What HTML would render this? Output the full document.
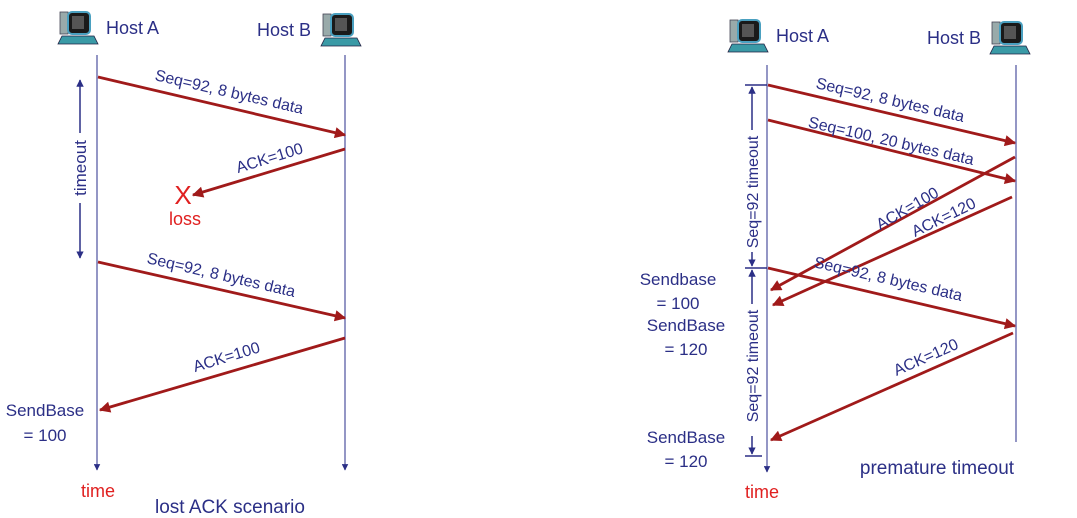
<!DOCTYPE html>
<html><head><meta charset="utf-8"><style>
body{margin:0;background:#fff;width:1077px;height:518px;overflow:hidden}
svg{display:block}
text{font-family:"Liberation Sans",sans-serif;fill:#2b2f86}
</style></head><body>
<svg width="1077" height="518" viewBox="0 0 1077 518">
<defs>
<marker id="ar" viewBox="0 0 10 10" refX="9" refY="5" markerWidth="5" markerHeight="4" orient="auto"><path d="M0,0L10,5L0,10z" fill="#a01a1a"/></marker>
<marker id="bl" viewBox="0 0 10 10" refX="9" refY="5" markerWidth="5" markerHeight="5" orient="auto"><path d="M0,0L10,5L0,10z" fill="#2b2f86"/></marker>
<g id="pc">
<rect x="0" y="0" width="8" height="22" fill="#9aa" stroke="#445" stroke-width="0.8"/>
<rect x="8" y="0" width="22" height="22" rx="4" fill="#1a1a1a" stroke="#4aa0c0" stroke-width="2"/>
<rect x="12" y="4" width="12" height="13" fill="#555"/>
<path d="M2,24 L34,24 L38,32 L-2,32 Z" fill="#3a9aa6" stroke="#224" stroke-width="0.8"/>
</g>
</defs>
<g stroke="#5b5fa6" stroke-width="1.3">
<line x1="97" y1="55" x2="97" y2="470" marker-end="url(#bl)"/>
<line x1="345" y1="55" x2="345" y2="470" marker-end="url(#bl)"/>
<line x1="767" y1="65" x2="767" y2="472" marker-end="url(#bl)"/>
<line x1="1016" y1="65" x2="1016" y2="442"/>
</g>
<use href="#pc" x="60" y="12"/>
<use href="#pc" x="323" y="14"/>
<use href="#pc" x="730" y="20"/>
<use href="#pc" x="992" y="22"/>
<g font-size="18">
<text x="106" y="34">Host A</text>
<text x="257" y="36">Host B</text>
<text x="776" y="42">Host A</text>
<text x="927" y="44">Host B</text>
</g>
<g stroke="#a01a1a" stroke-width="2.8" marker-end="url(#ar)">
<line x1="98" y1="77" x2="345" y2="135"/>
<line x1="345" y1="149" x2="193" y2="195"/>
<line x1="98" y1="262" x2="345" y2="318"/>
<line x1="345" y1="338" x2="100" y2="410"/>
<line x1="768" y1="85" x2="1015" y2="143"/>
<line x1="768" y1="120" x2="1015" y2="181"/>
<line x1="1015" y1="157" x2="771" y2="290"/>
<line x1="1012" y1="197" x2="773" y2="305"/>
<line x1="768" y1="268" x2="1015" y2="326"/>
<line x1="1013" y1="333" x2="771" y2="440"/>
</g>
<g font-size="16">
<text transform="translate(228,97) rotate(13)" text-anchor="middle">Seq=92, 8 bytes data</text>
<text transform="translate(271,163) rotate(-17)" text-anchor="middle">ACK=100</text>
<text transform="translate(220,280) rotate(13)" text-anchor="middle">Seq=92, 8 bytes data</text>
<text transform="translate(228,362) rotate(-17)" text-anchor="middle">ACK=100</text>
<text transform="translate(889,105) rotate(13)" text-anchor="middle">Seq=92, 8 bytes data</text>
<text transform="translate(890,146) rotate(13)" text-anchor="middle">Seq=100, 20 bytes data</text>
<text transform="translate(910,213) rotate(-30)" text-anchor="middle">ACK=100</text>
<text transform="translate(946,222) rotate(-26)" text-anchor="middle">ACK=120</text>
<text transform="translate(887,284) rotate(13)" text-anchor="middle">Seq=92, 8 bytes data</text>
<text transform="translate(928,362) rotate(-24)" text-anchor="middle">ACK=120</text>
</g>
<text x="183" y="204" font-size="26" text-anchor="middle" style="fill:#e02020">X</text>
<text x="185" y="225" font-size="18" text-anchor="middle" style="fill:#e02020">loss</text>
<g stroke="#2b2f86" stroke-width="1.5">
<line x1="80" y1="133" x2="80" y2="80" marker-end="url(#bl)"/>
<line x1="80" y1="203" x2="80" y2="258" marker-end="url(#bl)"/>
<line x1="752" y1="130" x2="752" y2="87" marker-end="url(#bl)"/>
<line x1="752" y1="252" x2="752" y2="266" marker-end="url(#bl)"/>
<line x1="745" y1="85" x2="767" y2="85"/>
<line x1="745" y1="268" x2="767" y2="268"/>
<line x1="752" y1="304" x2="752" y2="270" marker-end="url(#bl)"/>
<line x1="752" y1="436" x2="752" y2="454" marker-end="url(#bl)"/>
<line x1="745" y1="456" x2="762" y2="456"/>
</g>
<text transform="translate(86,168) rotate(-90)" font-size="17" text-anchor="middle">timeout</text>
<text transform="translate(758,192) rotate(-90)" font-size="16" text-anchor="middle">Seq=92 timeout</text>
<text transform="translate(758,366) rotate(-90)" font-size="16" text-anchor="middle">Seq=92 timeout</text>
<g font-size="17" text-anchor="middle">
<text x="45" y="416">SendBase</text><text x="45" y="441">= 100</text>
<text x="678" y="285">Sendbase</text><text x="678" y="309">= 100</text>
<text x="686" y="331">SendBase</text><text x="686" y="355">= 120</text>
<text x="686" y="443">SendBase</text><text x="686" y="467">= 120</text>
</g>
<text x="98" y="497" font-size="18" text-anchor="middle" style="fill:#e02020">time</text>
<text x="762" y="498" font-size="18" text-anchor="middle" style="fill:#e02020">time</text>
<text x="230" y="513" font-size="19" text-anchor="middle">lost ACK scenario</text>
<text x="937" y="474" font-size="19" text-anchor="middle">premature timeout</text>
</svg>
</body></html>
